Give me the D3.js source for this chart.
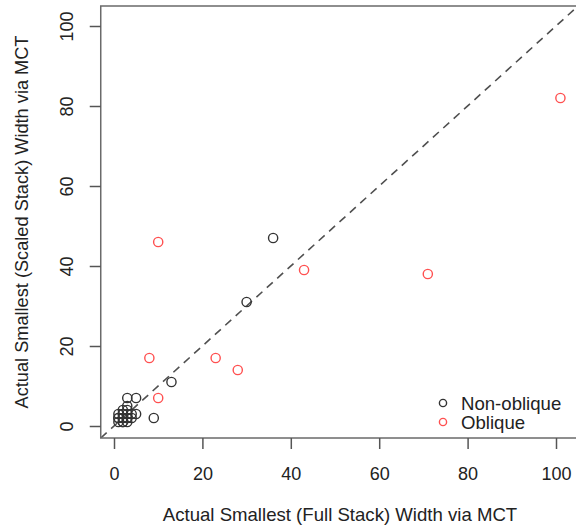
<!doctype html>
<html lang="en-US">
<head>
<meta charset="utf-8">
<title>MCT width comparison</title>
<script src="https://cdnjs.cloudflare.com/ajax/libs/d3/7.8.5/d3.min.js"></script>
<style>
  html, body { margin: 0; padding: 0; background: #fff; }
  svg { display: block; }
  text { font-family: "Liberation Sans", Arial, sans-serif; fill: #222; }
</style>
</head>
<body>
<svg id="chart" width="576" height="527"></svg>
<script>
// Non-oblique points (full stack width, scaled stack width)
var nonObliqueX = [3, 5, 3, 3, 2, 1, 2, 3, 4, 5, 1, 2, 3, 4, 2, 3, 1, 2, 2, 3, 1, 2, 9, 13, 30, 36];
var nonObliqueY = [7, 7, 5, 4, 4, 3, 3, 3, 3, 3, 2, 2, 2, 2, 1, 1, 1, 2, 3, 2, 2, 1, 2, 11, 31, 47];

// Oblique points
var obliqueX = [10, 8, 10, 23, 28, 43, 71, 101];
var obliqueY = [46, 17, 7, 17, 14, 39, 38, 82];

var xTicks = [0, 20, 40, 60, 80, 100];
var yTicks = [0, 20, 40, 60, 80, 100];

var legendLabels = ["Non-oblique", "Oblique"];
var legendColors = ["#333333", "#ff5050"];

var svg = d3.select("#chart");

var x = d3.scaleLinear().domain([0, 100]).range([114, 556]);
var y = d3.scaleLinear().domain([0, 100]).range([426, 26]);

var x0 = x(-3), x1 = x(105), y0 = y(-3), y1 = y(105);

// clip for the 1:1 line
svg.append("clipPath").attr("id", "plotclip")
  .append("rect")
  .attr("x", x0).attr("y", y1)
  .attr("width", x1 - x0).attr("height", y0 - y1);

// dashed y = x line
svg.append("line")
  .attr("clip-path", "url(#plotclip)")
  .attr("x1", x(-3)).attr("y1", y(-3))
  .attr("x2", x(105)).attr("y2", y(105))
  .attr("stroke", "#505050")
  .attr("stroke-width", 1.6)
  .attr("stroke-dasharray", "8,6");

// points
function drawPoints(xs, ys, color) {
  svg.append("g").selectAll("circle")
    .data(xs.map(function(d, i) { return [d, ys[i]]; }))
    .enter().append("circle")
    .attr("cx", function(d) { return x(d[0]); })
    .attr("cy", function(d) { return y(d[1]); })
    .attr("r", 4.6)
    .attr("fill", "none")
    .attr("stroke", color)
    .attr("stroke-width", 1.4);
}
drawPoints(nonObliqueX, nonObliqueY, legendColors[0]);
drawPoints(obliqueX, obliqueY, legendColors[1]);

// box
svg.append("rect")
  .attr("x", x0).attr("y", y1)
  .attr("width", x1 - x0).attr("height", y0 - y1)
  .attr("fill", "none")
  .attr("stroke", "#6a6a6a")
  .attr("stroke-width", 1.5);

// x axis
var xAxis = svg.append("g")
  .attr("transform", "translate(0," + y0 + ")")
  .call(d3.axisBottom(x).tickValues(xTicks).tickSize(11).tickPadding(18).tickFormat(d3.format("d")));
xAxis.select(".domain").remove();
xAxis.selectAll("line").attr("stroke", "#555").attr("stroke-width", 1.5);
xAxis.selectAll("text").attr("font-size", "18px").attr("fill", "#222")
  .attr("font-family", "Liberation Sans, Arial, sans-serif");

// y axis (labels rotated like R)
var yAxis = svg.append("g")
  .attr("transform", "translate(" + x0 + ",0)")
  .call(d3.axisLeft(y).tickValues(yTicks).tickSize(11).tickFormat(d3.format("d")));
yAxis.select(".domain").remove();
yAxis.selectAll("line").attr("stroke", "#555").attr("stroke-width", 1.5);
yAxis.selectAll("text")
  .attr("x", null).attr("dy", null)
  .attr("font-size", "18px").attr("fill", "#222")
  .attr("font-family", "Liberation Sans, Arial, sans-serif")
  .attr("text-anchor", "middle")
  .attr("transform", "translate(-28,0) rotate(-90)");

// axis titles
svg.append("text")
  .attr("x", (x(0) + x(100)) / 2 + 5)
  .attr("y", 521)
  .attr("text-anchor", "middle")
  .attr("font-size", "18.6px")
  .text("Actual Smallest (Full Stack) Width via MCT");

svg.append("text")
  .attr("transform", "translate(28," + ((y0 + y1) / 2) + ") rotate(-90)")
  .attr("text-anchor", "middle")
  .attr("font-size", "18.2px")
  .text("Actual Smallest (Scaled Stack) Width via MCT");

// legend
var legend = svg.append("g");
legendLabels.forEach(function(label, i) {
  var ly = 403 + i * 19;
  legend.append("circle")
    .attr("cx", 443).attr("cy", ly).attr("r", 3.6)
    .attr("fill", "none")
    .attr("stroke", legendColors[i])
    .attr("stroke-width", 1.4);
  legend.append("text")
    .attr("x", 461).attr("y", ly + 6.5)
    .attr("font-size", "18.6px")
    .text(label);
});
</script>
</body>
</html>
